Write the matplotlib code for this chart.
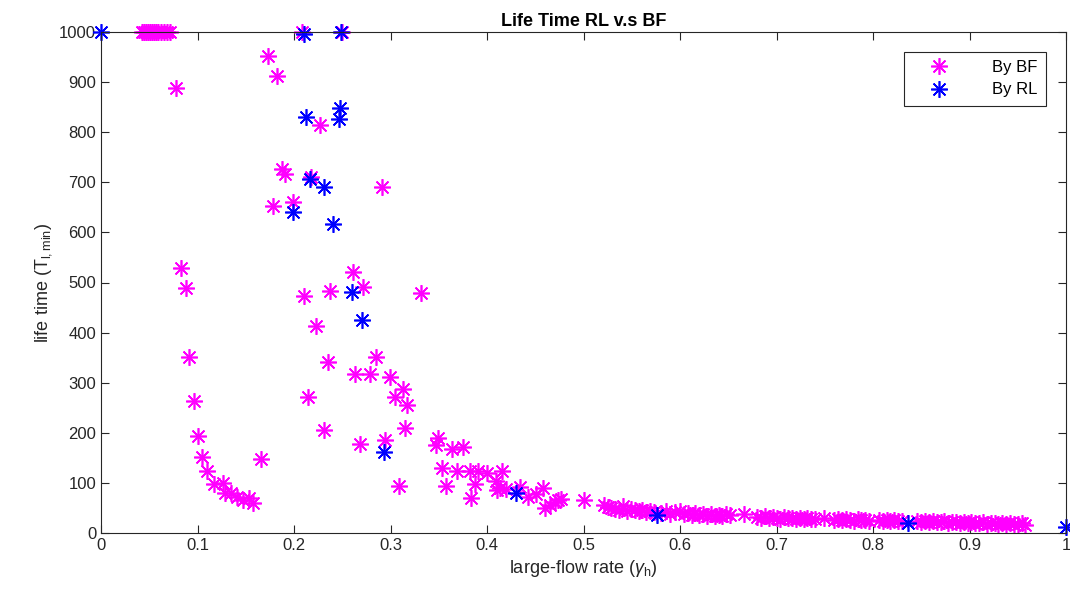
import matplotlib
matplotlib.use("Agg")
import matplotlib.pyplot as plt

# ---- data ----
bf_x = [0.042, 0.045, 0.047, 0.049, 0.051, 0.053, 0.055, 0.057, 0.059, 0.062, 0.065, 0.068, 0.072,
        0.208, 0.250,
        0.078, 0.173, 0.182, 0.227, 0.188, 0.191, 0.218, 0.291, 0.178, 0.199,
        0.261, 0.272, 0.210, 0.237, 0.223,
        0.083, 0.088, 0.0915, 0.0964, 0.100, 0.1047, 0.110, 0.117, 0.126, 0.129,
        0.135, 0.1406, 0.1475, 0.1537, 0.158, 0.166,
        0.235, 0.214, 0.263, 0.279, 0.285, 0.299, 0.305, 0.313, 0.317, 0.315,
        0.231, 0.268, 0.294, 0.309, 0.332,
        0.349, 0.347, 0.364, 0.375, 0.353, 0.358, 0.369, 0.382, 0.391, 0.400,
        0.416, 0.388, 0.383, 0.409, 0.410, 0.413, 0.420, 0.434, 0.443, 0.451,
        0.458, 0.460, 0.465, 0.470, 0.474, 0.477, 0.500,
        0.521, 0.525, 0.529, 0.533, 0.537, 0.541, 0.545, 0.549, 0.553, 0.557,
        0.561, 0.565, 0.569, 0.573, 0.580, 0.585, 0.590, 0.595, 0.600, 0.604,
        0.608, 0.612, 0.616, 0.620, 0.624, 0.628, 0.632, 0.636, 0.640, 0.644,
        0.648, 0.652, 0.666, 0.680, 0.684, 0.688, 0.692, 0.696, 0.700, 0.704,
        0.708, 0.712, 0.716, 0.720, 0.724, 0.728, 0.732, 0.736, 0.740, 0.749,
        0.760, 0.764, 0.768, 0.772, 0.776, 0.780, 0.784, 0.788, 0.792, 0.796,
        0.806, 0.810, 0.814, 0.818, 0.822, 0.826, 0.830, 0.846, 0.850, 0.854,
        0.858, 0.862, 0.866, 0.870, 0.874, 0.878, 0.882, 0.886, 0.890, 0.894,
        0.898, 0.902, 0.906, 0.910, 0.914, 0.918, 0.922, 0.926, 0.930, 0.934,
        0.938, 0.942, 0.946, 0.950, 0.954, 0.958]
bf_y = [1000, 1000, 1000, 1000, 1000, 1000, 1000, 1000, 1000, 1000, 1000, 1000, 1000,
        1000, 1000,
        888, 952, 912, 814, 727, 717, 711, 690, 653, 661,
        520, 492, 474, 483, 413,
        528, 490, 351, 263, 193, 152, 124, 98, 99, 80,
        79, 71, 66, 70, 60, 148,
        342, 272, 317, 317, 352, 312, 272, 288, 256, 210,
        206, 177, 186, 94, 479,
        189, 176, 168, 172, 130, 94, 124, 124, 124, 120,
        124, 97, 69, 104, 86, 90, 87, 91, 72, 78,
        90, 49, 56, 62, 66, 67, 66,
        56, 52, 50, 48, 46, 53, 44, 47, 45, 43,
        46, 42, 44, 41, 40, 43, 38, 41, 43, 37,
        40, 36, 39, 35, 38, 34, 37, 33, 36, 34,
        37, 35, 37, 32, 30, 33, 29, 31, 30, 28,
        31, 29, 30, 28, 30, 27, 29, 28, 27, 29,
        26, 28, 25, 27, 26, 24, 27, 25, 26, 24,
        25, 23, 26, 24, 25, 23, 24, 23, 22, 24,
        21, 23, 22, 21, 23, 20, 22, 21, 20, 22,
        19, 21, 20, 19, 21, 18, 20, 19, 18, 20,
        17, 19, 18, 17, 19, 16]

rl_x = [0.0, 0.210, 0.249, 0.212, 0.248, 0.247, 0.217, 0.231, 0.199, 0.240,
        0.260, 0.270, 0.293, 0.430, 0.576, 0.836, 1.0]
rl_y = [1000, 997, 1000, 830, 848, 826, 706, 690, 641, 616,
        482, 425, 161, 80, 35, 20, 12]

x_ticks = [0, 0.1, 0.2, 0.3, 0.4, 0.5, 0.6, 0.7, 0.8, 0.9, 1]
x_tick_labels = ["0", "0.1", "0.2", "0.3", "0.4", "0.5", "0.6", "0.7", "0.8", "0.9", "1"]
y_ticks = [0, 100, 200, 300, 400, 500, 600, 700, 800, 900, 1000]

# ---- plot ----
plt.rcParams['font.family'] = ['Liberation Sans', 'DejaVu Sans']
plt.rcParams['mathtext.fontset'] = 'custom'
plt.rcParams['mathtext.rm'] = 'Liberation Sans'
plt.rcParams['mathtext.it'] = 'Liberation Sans:italic'

fig = plt.figure(figsize=(10.7, 6.05), dpi=100)
ax = fig.add_axes([101 / 1070, 1 - 533 / 605, (1066 - 101) / 1070, (533 - 32) / 605])

star = (8, 2, 0)
ax.plot(bf_x, bf_y, linestyle='none', marker=star, markersize=12, markeredgewidth=1.2,
        color='#FF00FF', label='By BF', clip_on=False)
ax.plot(rl_x, rl_y, linestyle='none', marker=star, markersize=12, markeredgewidth=1.2,
        color='#0000FF', label='By RL', clip_on=False)

ax.set_xlim(0, 1)
ax.set_ylim(0, 1000)
ax.set_xticks(x_ticks)
ax.set_xticklabels(x_tick_labels)
ax.set_yticks(y_ticks)
ax.tick_params(direction='in', top=True, right=True, labelsize=12, length=6,
               width=0.8, colors='#262626', labelcolor='#262626')
for s in ax.spines.values():
    s.set_color('#262626')
    s.set_linewidth(0.8)

ax.set_title('Life Time RL v.s BF', fontsize=13, fontweight='bold', pad=4)
ax.set_xlabel(r'large-flow rate ($\gamma_{\rm h}$)', fontsize=13, color='#262626')
ax.set_ylabel(r'life time (T$_{\rm l,min}$)', fontsize=13, color='#262626')

leg = ax.legend(loc='upper right', bbox_to_anchor=(0.979, 0.961), fontsize=12,
                frameon=True, fancybox=False, edgecolor='#262626', framealpha=1,
                handletextpad=1.6, borderpad=0.5, labelspacing=0.45, handlelength=3.2,
                borderaxespad=0.0)
leg.get_frame().set_linewidth(0.8)

fig.savefig('out.png', dpi=100)
